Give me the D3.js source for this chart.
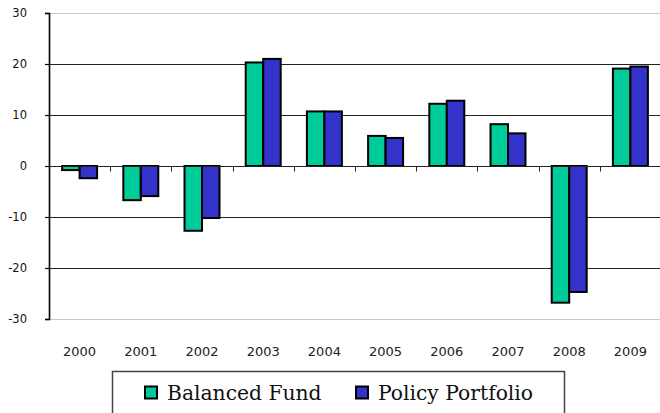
<!DOCTYPE html>
<html>
<head>
<meta charset="utf-8">
<script src="https://cdn.jsdelivr.net/npm/d3@7"></script>
<style>
  body { margin: 0; background: #fff; }
  svg { display: block; }
</style>
</head>
<body>
<svg width="660" height="413"></svg>
<script>
// chart values
var years = ['2000','2001','2002','2003','2004','2005','2006','2007','2008','2009'];
var seriesNames = ['Balanced Fund', 'Policy Portfolio'];
var balanced = [-0.8, -6.7, -12.7, 20.3, 10.7, 5.9, 12.2, 8.2, -26.8, 19.1];
var policy   = [-2.4, -5.9, -10.2, 21.0, 10.7, 5.5, 12.8, 6.4, -24.7, 19.5];
var yTicks = [-30, -20, -10, 0, 10, 20, 30];

var colors = {'Balanced Fund': '#00cc99', 'Policy Portfolio': '#3333cc'};

var svg = d3.select('svg');

// plot box (note: "top" is taken by window.top, so use other names)
var plotLeft = 49, plotRight = 661, plotTop = 13, plotBottom = 319;

var y = d3.scaleLinear().domain([-30, 30]).range([plotBottom, plotTop]);
var x0 = d3.scaleBand().domain(years).range([plotLeft, plotRight]).padding(0);
var x1 = d3.scaleBand().domain(seriesNames).range([0, x0.bandwidth()])
			.paddingInner(0).paddingOuter(0.75);

// build rows from the arrays
var rows = years.map(function(yr, i){
	return {year: yr, values: [
		{name: seriesNames[0], v: balanced[i]},
		{name: seriesNames[1], v: policy[i]}
	]};
});

// gridlines (top / bottom light grey, the others dark)
svg.append('g').selectAll('line')
	.data(yTicks.filter(function(d){ return d !== 0; }))
	.enter().append('line')
	.attr('x1', plotLeft).attr('x2', 660)
	.attr('y1', function(d){ return Math.round(y(d)) + 0.5; })
	.attr('y2', function(d){ return Math.round(y(d)) + 0.5; })
	.attr('stroke', function(d){ return Math.abs(d) === 30 ? '#c8c8c8' : '#222'; })
	.attr('stroke-width', 1);

// bars
var groups = svg.append('g').selectAll('g')
	.data(rows)
	.enter().append('g')
	.attr('transform', function(d){ return 'translate(' + x0(d.year) + ',0)'; });

groups.selectAll('rect')
	.data(function(d){ return d.values; })
	.enter().append('rect')
	.attr('x', function(d){ return x1(d.name); })
	.attr('width', x1.bandwidth())
	.attr('y', function(d){ return y(Math.max(0, d.v)); })
	.attr('height', function(d){ return Math.abs(y(d.v) - y(0)); })
	.attr('fill', function(d){ return colors[d.name]; })
	.attr('stroke', '#000')
	.attr('stroke-width', 2);

// zero line with category ticks hanging below
var zy = Math.round(y(0)) + 0.5;
svg.append('line')
	.attr('x1', plotLeft).attr('x2', 660)
	.attr('y1', zy).attr('y2', zy)
	.attr('stroke', '#222').attr('stroke-width', 1.2);

svg.append('g').selectAll('line')
	.data(years.slice(1))
	.enter().append('line')
	.attr('x1', function(d){ return Math.round(x0(d)) + 0.5; })
	.attr('x2', function(d){ return Math.round(x0(d)) + 0.5; })
	.attr('y1', zy).attr('y2', zy + 5)
	.attr('stroke', '#222').attr('stroke-width', 1);

// y axis (plain hyphen for the minus, like the original)
var yAxis = d3.axisLeft(y).tickValues(yTicks).tickSize(4).tickPadding(18)
	.tickFormat(function(d){ return String(d); });
var gy = svg.append('g')
	.attr('transform', 'translate(' + plotLeft + ',0)')
	.call(yAxis);
gy.select('.domain').attr('stroke', '#000').attr('stroke-width', 1.6);
gy.selectAll('.tick line').attr('stroke', '#000').attr('stroke-width', 1.2);
gy.selectAll('text')
	.attr('fill', '#111')
	.style('font-family', 'DejaVu Sans, sans-serif')
	.style('font-size', '11.5px');

// x labels
svg.append('g').selectAll('text')
	.data(years)
	.enter().append('text')
	.attr('x', function(d){ return x0(d) + x0.bandwidth() / 2; })
	.attr('y', 356)
	.attr('text-anchor', 'middle')
	.attr('fill', '#222')
	.style('font-family', 'DejaVu Sans, sans-serif')
	.style('font-size', '13px')
	.text(function(d){ return d; });

// legend
var legend = svg.append('g');
legend.append('rect')
	.attr('x', 112.5).attr('y', 371.5)
	.attr('width', 452).attr('height', 60)
	.attr('fill', '#fff')
	.attr('stroke', '#444').attr('stroke-width', 1.5);

var legX = [145, 356];
var items = legend.selectAll('g.item')
	.data(seriesNames)
	.enter().append('g')
	.attr('class', 'item')
	.attr('transform', function(d, i){ return 'translate(' + legX[i] + ',0)'; });

items.append('rect')
	.attr('x', 0).attr('y', 386.5)
	.attr('width', 12).attr('height', 12)
	.attr('fill', function(d){ return colors[d]; })
	.attr('stroke', '#000').attr('stroke-width', 2);

items.append('text')
	.attr('x', 22).attr('y', 400)
	.attr('fill', '#111')
	.style('font-family', 'DejaVu Serif, serif')
	.style('font-size', '20.3px')
	.text(function(d){ return d; });
</script>
</body>
</html>
